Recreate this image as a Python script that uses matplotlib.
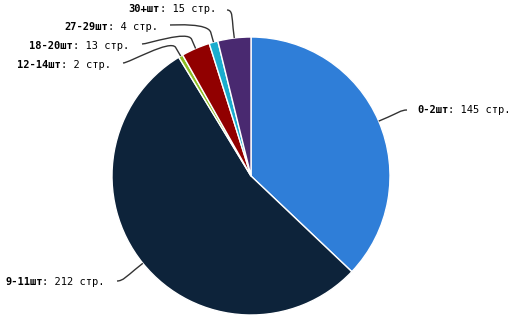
import matplotlib
matplotlib.use("Agg")
import matplotlib.pyplot as plt
from matplotlib.offsetbox import TextArea, HPacker, AnnotationBbox
from matplotlib.path import Path
from matplotlib.patches import PathPatch
import numpy as np

W, H = 512, 330

categories = ["0-2шт", "9-11шт", "12-14шт", "18-20шт", "27-29шт", "30+шт"]
pages = [145, 212, 2, 13, 4, 15]
colors = ["#2f7ed8", "#0d233a", "#8bbc21", "#910000", "#1aadce", "#492970"]

# label placement in image pixels (x, y, side of anchor) and where each connector starts
label_pos = [(417, 110, "left"), (105, 282, "right"), (111, 65, "right"),
             (129, 46, "right"), (158, 27, "right"), (216, 9, "right")]
line_start = [(407, 110), (117, 281), (123, 63), (142, 44), (170, 25), (227, 10)]

cx, cy, r = 251, 176, 139
conn_dist = 10  # radial part of the connector, px

fig = plt.figure(figsize=(W / 100, H / 100), dpi=100)
ax = fig.add_axes([0, 0, 1, 1])
wedges, _ = ax.pie(pages, colors=colors, startangle=90, counterclock=False,
                   center=(cx, H - cy), radius=r,
                   wedgeprops=dict(edgecolor="white", linewidth=1))
ax.set_xlim(0, W)
ax.set_ylim(0, H)
ax.set_aspect("equal")
ax.axis("off")

font = dict(family="DejaVu Sans Mono", size=7.5, color="black")

for w, name, n, (lx, ly, side), (sx, sy) in zip(wedges, categories, pages, label_pos, line_start):
	mid = np.deg2rad((w.theta1 + w.theta2) / 2)
	u = np.array([np.cos(mid), np.sin(mid)])
	edge = np.array([cx, H - cy]) + r * u
	outer = edge + conn_dist * u

	box = HPacker(children=[TextArea(name, textprops=dict(fontweight="bold", **font)),
	                        TextArea(": %d стр." % n, textprops=font)],
	              align="baseline", pad=0, sep=0)
	ab = AnnotationBbox(box, (lx, H - ly), xycoords="data",
	                    box_alignment=(0 if side == "left" else 1, 0.5),
	                    frameon=False, pad=0)
	ax.add_artist(ab)

	# soft connector: curve from the label to a point just outside the slice, then straight in
	start = np.array([sx, H - sy])
	c1 = start + np.array([-6 if side == "left" else 6, 0])
	c2 = 2 * outer - edge
	verts = [start, c1, c2, outer, edge]
	codes = [Path.MOVETO, Path.CURVE4, Path.CURVE4, Path.CURVE4, Path.LINETO]
	ax.add_patch(PathPatch(Path(verts, codes), facecolor="none", edgecolor="#333333", lw=1))

fig.savefig("out.png", dpi=100)
